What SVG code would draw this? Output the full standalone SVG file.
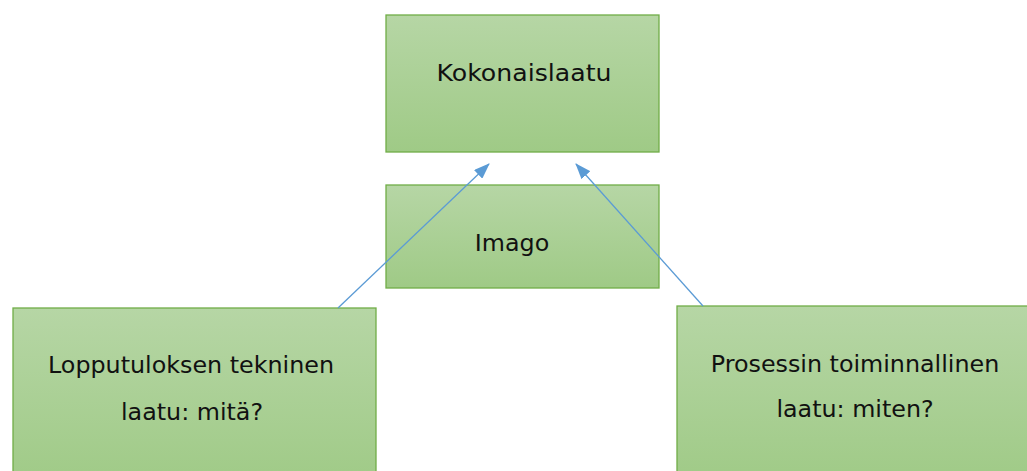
<svg xmlns="http://www.w3.org/2000/svg" width="1027" height="471" viewBox="0 0 1027 471">
  <defs>
    <linearGradient id="fillGreen" x1="0" y1="0" x2="0" y2="1">
      <stop offset="0" stop-color="#b6d6a5"/>
      <stop offset="1" stop-color="#9fca86"/>
    </linearGradient>
    <marker id="arrow" viewBox="0 0 16 12" refX="15" refY="6" markerWidth="16" markerHeight="12" markerUnits="userSpaceOnUse" orient="auto">
      <path d="M0,0 L16,6 L0,12 Z" fill="#5b9bd5"/>
    </marker>
    <style>
      .box { fill: url(#fillGreen); stroke: #70ad47; stroke-width: 1.3; }
      .label { font-family: "DejaVu Sans", sans-serif; font-size: 23.8px; fill: #111; text-anchor: middle; }
      .conn { stroke: #5b9bd5; stroke-width: 1.3; fill: none; marker-end: url(#arrow); }
    </style>
  </defs>
  <rect width="1027" height="471" fill="#ffffff"/>

  <g id="node-kokonaislaatu">
    <rect class="box" x="386" y="15" width="273" height="137"/>
    <text class="label" x="524" y="81" textLength="175" lengthAdjust="spacingAndGlyphs">Kokonaislaatu</text>
  </g>

  <g id="node-imago">
    <rect class="box" x="386" y="185" width="273" height="103"/>
    <text class="label" x="512" y="251">Imago</text>
  </g>

  <g id="node-lopputulos">
    <rect class="box" x="13" y="308" width="363" height="180"/>
    <text class="label" x="191" y="373">Lopputuloksen tekninen</text>
    <text class="label" x="192" y="420">laatu: mitä?</text>
  </g>

  <g id="node-prosessi">
    <rect class="box" x="677" y="306" width="370" height="180"/>
    <text class="label" x="855" y="372">Prosessin toiminnallinen</text>
    <text class="label" x="855" y="417">laatu: miten?</text>
  </g>

  <g id="connectors">
    <line class="conn" x1="338" y1="308" x2="489" y2="164"/>
    <line class="conn" x1="703" y1="306" x2="576" y2="164"/>
  </g>
</svg>
